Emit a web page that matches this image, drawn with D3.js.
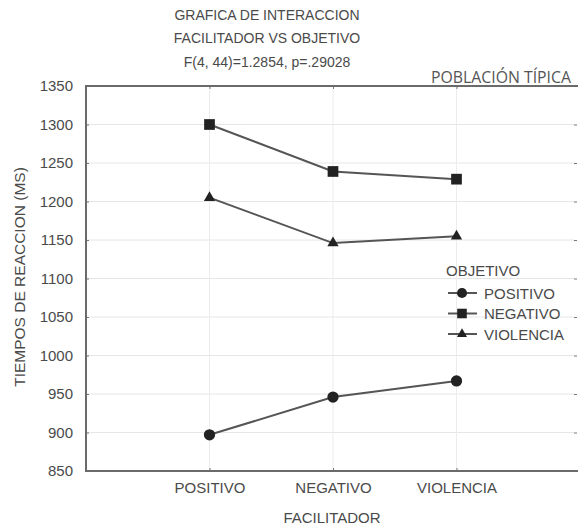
<!DOCTYPE html>
<html><head><meta charset="utf-8">
<script src="https://cdn.jsdelivr.net/npm/d3@7/dist/d3.min.js"></script>
<style>html,body{margin:0;padding:0;background:#fff;overflow:hidden}</style>
</head><body><svg id="c" width="578" height="529"></svg>
<script>
const categories = ["POSITIVO", "NEGATIVO", "VIOLENCIA"];
const seriesNames = ["POSITIVO", "NEGATIVO", "VIOLENCIA"];
const positivo = [897, 946, 967];
const negativo = [1300, 1239, 1229];
const violencia = [1205, 1146, 1155];
const yTicks = [850, 900, 950, 1000, 1050, 1100, 1150, 1200, 1250, 1300, 1350];
const titleLines = ["GRAFICA DE INTERACCION", "FACILITADOR VS OBJETIVO", "F(4, 44)=1.2854, p=.29028"];

const series = [
  {name: seriesNames[0], values: positivo, symbol: d3.symbolCircle, size: 100},
  {name: seriesNames[1], values: negativo, symbol: d3.symbolSquare, size: 115},
  {name: seriesNames[2], values: violencia, symbol: d3.symbolTriangle, size: 55}
];

const svg = d3.select("#c");
const L = 86, R = 580, T = 86, B = 471;
const font = "'Liberation Sans', Arial, sans-serif";
const txt = "#4a4a4a";

const x = d3.scalePoint().domain(categories).range([L, R]).padding(1);
const y = d3.scaleLinear().domain([850, 1350]).range([B, T]);

// grid
const g = svg.append("g");
g.selectAll(".hg").data(yTicks.slice(1, -1)).join("line")
  .attr("x1", L).attr("x2", R - 6).attr("y1", d => y(d)).attr("y2", d => y(d))
  .attr("stroke", "#e6e6e6").attr("stroke-width", 1);
g.selectAll(".vg").data(categories).join("line")
  .attr("x1", d => x(d)).attr("x2", d => x(d)).attr("y1", T).attr("y2", B)
  .attr("stroke", "#ececec").attr("stroke-width", 1);

// left axis
const ya = svg.append("g").attr("transform", `translate(${L},0)`)
  .call(d3.axisLeft(y).tickValues(yTicks).tickFormat(d3.format("d")).tickSize(-3).tickPadding(13));
ya.select(".domain").remove();
ya.selectAll(".tick line").attr("stroke", "#777");
ya.selectAll(".tick text").attr("font-family", font).attr("font-size", 15).attr("fill", txt);

// right ticks
svg.append("g").attr("transform", `translate(${R - 3},0)`)
  .call(d3.axisRight(y).tickValues(yTicks.slice(1, -1)).tickSize(-3).tickFormat(""))
  .call(s => s.select(".domain").remove())
  .selectAll(".tick line").attr("stroke", "#777");

// bottom axis
const xa = svg.append("g").attr("transform", `translate(0,${B})`)
  .call(d3.axisBottom(x).tickSize(-3).tickPadding(11));
xa.select(".domain").remove();
xa.selectAll(".tick line").attr("stroke", "#777");
xa.selectAll(".tick text").attr("font-family", font).attr("font-size", 15).attr("fill", txt);

// top ticks
svg.append("g").attr("transform", `translate(0,${T})`)
  .call(d3.axisTop(x).tickSize(-3).tickFormat(""))
  .call(s => s.select(".domain").remove())
  .selectAll(".tick line").attr("stroke", "#777");

// frame
svg.append("path").attr("d", `M${R},${T}H${L}V${B}H${R}`)
  .attr("fill", "none").attr("stroke", "#6a6a6a").attr("stroke-width", 2);

// lines and markers
const line = d3.line().x((d, i) => x(categories[i])).y(d => y(d));
series.forEach(s => {
  svg.append("path").attr("d", line(s.values)).attr("fill", "none")
    .attr("stroke", "#555").attr("stroke-width", 2);
  svg.selectAll(null).data(s.values).join("path")
    .attr("d", d3.symbol().type(s.symbol).size(s.size))
    .attr("transform", (d, i) => `translate(${x(categories[i])},${y(d)})`)
    .attr("fill", "#222");
});

// titles
const ty = [20, 43, 67];
titleLines.forEach((t, i) => {
  svg.append("text").attr("x", 267).attr("y", ty[i]).attr("text-anchor", "middle")
    .attr("font-family", font).attr("font-size", 14).attr("fill", txt).text(t);
});

svg.append("text").attr("x", 431).attr("y", 83)
  .attr("font-family", "'Open Sans', sans-serif").attr("font-size", 16).attr("fill", "#555")
  .attr("textLength", 140).attr("lengthAdjust", "spacingAndGlyphs").text("POBLACIÓN TÍPICA");

// axis titles
svg.append("text").attr("transform", "translate(25,277) rotate(-90)").attr("text-anchor", "middle")
  .attr("font-family", font).attr("font-size", 15.5).attr("fill", txt).text("TIEMPOS DE REACCION (MS)");
svg.append("text").attr("x", 332).attr("y", 523).attr("text-anchor", "middle")
  .attr("font-family", font).attr("font-size", 15).attr("fill", txt).text("FACILITADOR");

// legend
const lg = svg.append("g");
lg.append("text").attr("x", 446).attr("y", 276).attr("font-family", font).attr("font-size", 15)
  .attr("fill", txt).text("OBJETIVO");
series.forEach((s, i) => {
  const yy = 293 + i * 20.5;
  lg.append("line").attr("x1", 448).attr("x2", 477).attr("y1", yy).attr("y2", yy)
    .attr("stroke", "#555").attr("stroke-width", 2);
  lg.append("path").attr("d", d3.symbol().type(s.symbol).size(s.size * 0.8))
    .attr("transform", `translate(462,${yy})`).attr("fill", "#222");
  lg.append("text").attr("x", 484).attr("y", yy + 5.5).attr("font-family", font).attr("font-size", 15)
    .attr("fill", txt).text(s.name);
});
</script></body></html>
